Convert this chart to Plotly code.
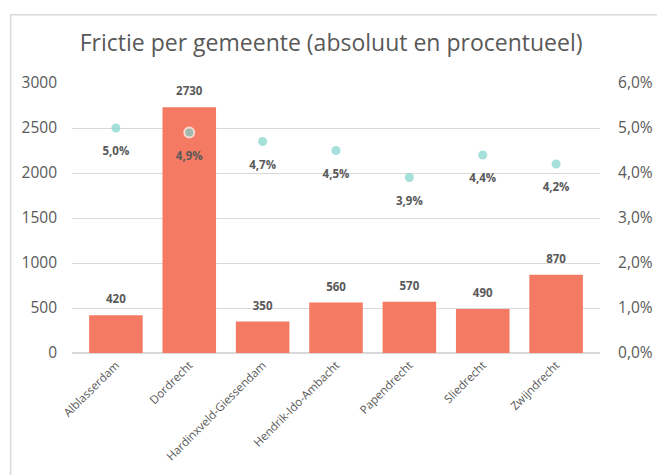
import plotly.graph_objects as go

categories = ["Alblasserdam", "Dordrecht", "Hardinxveld-Giessendam", "Hendrik-Ido-Ambacht",
              "Papendrecht", "Sliedrecht", "Zwijndrecht"]
absolute = [420, 2730, 350, 560, 570, 490, 870]
percent = [0.050, 0.049, 0.047, 0.045, 0.039, 0.044, 0.042]
left_ticks = [0, 500, 1000, 1500, 2000, 2500, 3000]
right_ticks = [0, 0.01, 0.02, 0.03, 0.04, 0.05, 0.06]

BAR = "#F47A63"
DOT = "#7FD3CC"
GRID = "#D9D9D9"
TXT = "#595959"
FONT = "Open Sans"

# page body has an 8px margin, so the figure is 8px smaller and all offsets shifted
W, H = 657, 467
L, T, R, B = 64, 75, 49, 121   # plot area 64..608 x 75..346 in figure coords
PW, PH = W - L - R, H - T - B

fig = go.Figure()
fig.add_trace(go.Bar(x=categories, y=absolute, marker=dict(color=BAR, line=dict(width=0)),
                     showlegend=False, hoverinfo="skip"))
# bar value labels
fig.add_trace(go.Scatter(x=categories, y=absolute, mode="markers+text",
                         text=[str(v) for v in absolute], textposition="top center",
                         textfont=dict(family=FONT, size=11.5, color=TXT, weight="bold"),
                         marker=dict(size=13, opacity=0), showlegend=False, hoverinfo="skip"))
# percentage dots
sizes = [9, 10, 9, 9, 9, 9, 9]
lw = [0, 2, 0, 0, 0, 0, 0]
fig.add_trace(go.Scatter(x=categories, y=percent, mode="markers", yaxis="y2",
                         marker=dict(size=sizes, color=DOT, line=dict(width=lw, color="white")),
                         showlegend=False, hoverinfo="skip"))
fig.add_trace(go.Scatter(x=categories, y=percent, mode="markers+text", yaxis="y2",
                         text=[f"{p*100:.1f}%".replace(".", ",") for p in percent],
                         textposition="bottom center",
                         textfont=dict(family=FONT, size=11.5, color=TXT, weight="bold"),
                         marker=dict(size=28, opacity=0), showlegend=False, hoverinfo="skip"))

fig.update_layout(
    width=W, height=H, autosize=False,
    margin=dict(l=L, r=R, t=T, b=B),
    paper_bgcolor="white", plot_bgcolor="white",
    separators=",.",
    bargap=0.27,
    title=dict(text="Frictie per gemeente (absoluut en procentueel)", x=(331 - L) / PW, xref="paper",
               xanchor="center", y=1 - 35 / H, yanchor="middle",
               font=dict(family=FONT, size=23, color=TXT)),
    font=dict(family=FONT, color=TXT),
    xaxis=dict(tickangle=-45, tickfont=dict(family=FONT, size=11.5, color=TXT),
               showgrid=False, showline=True, linecolor=GRID, linewidth=1, ticks=""),
    yaxis=dict(range=[0, 3000], tickvals=left_ticks, showgrid=True, gridcolor=GRID,
               gridwidth=1, zeroline=True, zerolinecolor=GRID, showline=False,
               tickfont=dict(family=FONT, size=15.5, color=TXT), ticklabelstandoff=14),
    yaxis2=dict(range=[0, 0.06], tickvals=right_ticks, tickformat=".1%", overlaying="y",
                side="right", showgrid=False, zeroline=False, showline=False,
                ticks="outside", ticklen=14, tickcolor="rgba(0,0,0,0)",
                tickfont=dict(family=FONT, size=15.5, color=TXT)),
    shapes=[dict(type="rect", xref="paper", yref="paper",
                 x0=(0.75 - L) / PW, x1=1.5, y0=-1.0, y1=(H - B - 6.5) / PH,
                 line=dict(color=GRID, width=1.5), fillcolor="rgba(0,0,0,0)", layer="below")],
)

fig.write_html("out.html", config={"responsive": False, "displayModeBar": False})
